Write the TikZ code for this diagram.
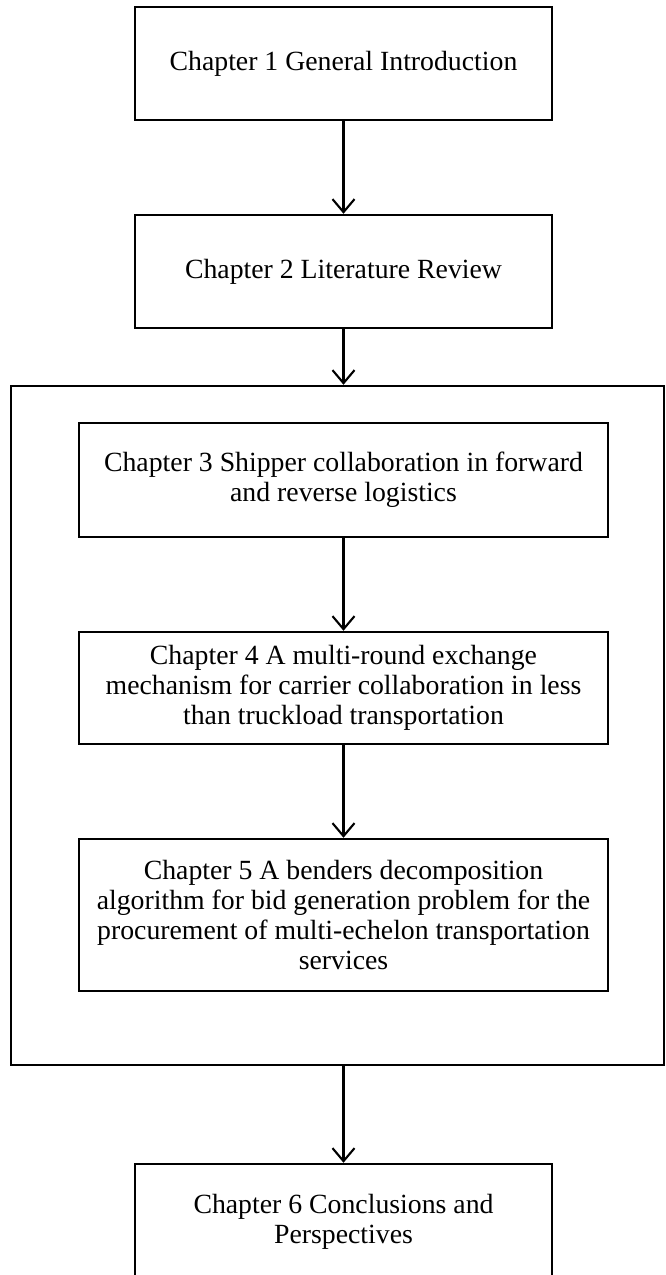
\documentclass[tikz,border=0pt]{standalone}
\usepackage{fontspec}
\setmainfont{Liberation Serif}
\usepackage{tikz}
\usetikzlibrary{arrows.meta}

\begin{document}
\begin{tikzpicture}[
  chapbox/.style = {draw, line width=1.4pt, align=center, inner sep=0pt,
                    font=\fontsize{15.8}{16.9}\selectfont},
  link/.style = {-{Straight Barb[length=2.6mm,width=4.4mm]}, line width=1.2pt}]
  \useasboundingbox (0,0) rectangle (13.3,-25.5);

  \node[chapbox, minimum width=8.34cm, minimum height=2.26cm] (ch1) at (6.87,-1.27) {Chapter 1 General Introduction};
  \node[chapbox, minimum width=8.34cm, minimum height=2.26cm] (ch2) at (6.87,-5.43) {Chapter 2 Literature Review};

  \node[draw, line width=1.4pt, minimum width=13.06cm, minimum height=13.58cm] (part) at (6.75,-14.51) {};

  \node[chapbox, minimum width=10.58cm, minimum height=2.28cm] (ch3) at (6.87,-9.60)
    {Chapter 3 Shipper collaboration in forward\\ and reverse logistics};
  \node[chapbox, minimum width=10.58cm, minimum height=2.24cm] (ch4) at (6.87,-13.76)
    {Chapter 4 A multi-round exchange\\ mechanism for carrier collaboration in less\\ than truckload transportation};
  \node[chapbox, minimum width=10.58cm, minimum height=3.04cm] (ch5) at (6.87,-18.30)
    {Chapter 5 A benders decomposition\\ algorithm for bid generation problem for the\\ procurement of multi-echelon transportation\\ services};

  \node[chapbox, minimum width=8.34cm, minimum height=2.32cm] (ch6) at (6.87,-24.44)
    {Chapter 6 Conclusions and\\ Perspectives};

  \draw[link] (ch1) -- (ch2);
  \draw[link] (ch2) -- (ch2 |- part.north);
  \draw[link] (ch3) -- (ch4);
  \draw[link] (ch4) -- (ch5);
  \draw[link] (part.south -| ch6) -- (ch6);
\end{tikzpicture}
\end{document}
